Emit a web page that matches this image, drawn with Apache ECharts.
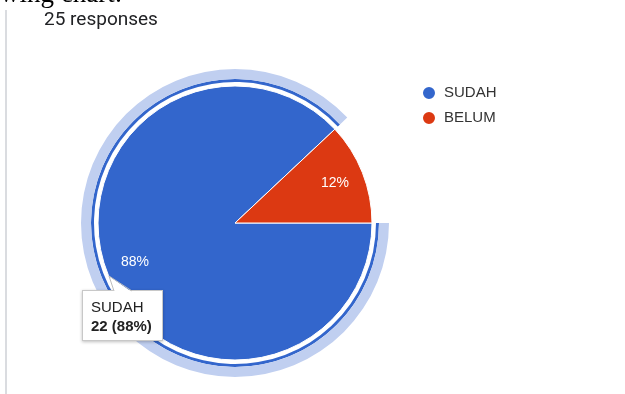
<!DOCTYPE html>
<html>
<head>
<meta charset="utf-8">
<script src="https://cdn.jsdelivr.net/npm/echarts@6/dist/echarts.min.js"></script>
<style>
  html, body { margin: 0; padding: 0; background: #fff; }
  #chart { width: 625px; height: 394px; }
</style>
</head>
<body>
<div id="chart"></div>
<script>
// Survey answers
const categories = ['SUDAH', 'BELUM'];
const responses = [22, 3];
const sliceColors = ['#3366cc', '#dc3912'];
const headerText = '25 responses';
const captionText = 'following chart:';

const pieCenter = [235, 223];
const pieRadius = 137;

const sliceData = categories.map((name, i) => ({
  name,
  value: responses[i],
  itemStyle: { color: sliceColors[i] }
}));

// ring data: only the hovered SUDAH slice gets a visible ring
function ringData(color) {
  return categories.map((name, i) => ({
    name,
    value: responses[i],
    itemStyle: { color: i === 0 ? color : 'transparent', borderWidth: 0 }
  }));
}

const chart = echarts.init(document.getElementById('chart'), null, { renderer: 'canvas' });

const pointerSvg =
  '<svg width="60" height="18" style="position:absolute;left:0;top:-16px;overflow:visible" xmlns="http://www.w3.org/2000/svg">' +
  '<polygon points="26,1 31,17 49,17" fill="#fff"/>' +
  '<polyline points="31,16 26,1 49,16" fill="none" stroke="#bdbdbd" stroke-width="1"/>' +
  '</svg>';

chart.setOption({
  animation: false,
  title: {
    text: headerText,
    left: 44,
    top: 11,
    padding: 0,
    textStyle: { fontFamily: 'Roboto', fontSize: 19, fontWeight: 'normal', color: '#202124' }
  },
  graphic: [
    {
      type: 'text',
      left: -51,
      top: -19,
      style: { text: captionText, font: '27px "Liberation Serif"', fill: '#000' }
    },
    {
      type: 'line',
      shape: { x1: 6, y1: 10, x2: 6, y2: 394 },
      style: { stroke: '#dadce0', lineWidth: 2 }
    }
  ],
  legend: {
    orient: 'vertical',
    left: 421,
    top: 85,
    padding: 0,
    data: categories,
    icon: 'circle',
    itemWidth: 14,
    itemHeight: 14,
    itemGap: 9,
    selectedMode: false,
    textStyle: { fontFamily: 'Arial', fontSize: 15, color: '#333', padding: [0, 0, 0, 3] }
  },
  tooltip: {
    trigger: 'item',
    triggerOn: 'none',
    alwaysShowContent: true,
    transitionDuration: 0,
    position: [82, 290],
    backgroundColor: '#fff',
    borderColor: '#c8c8c8',
    borderWidth: 1,
    padding: [6, 8, 4, 8],
    extraCssText: 'width:81px;height:51px;box-sizing:border-box;border-radius:0;box-shadow:0 1px 3px rgba(0,0,0,0.25);line-height:19px;',
    textStyle: { fontFamily: 'Arial', fontSize: 15, color: '#222' },
    formatter: p => pointerSvg + p.name + '<br><b>' + p.value + ' (' + Math.round(p.percent) + '%)</b>'
  },
  series: [
    {
      name: 'answers',
      type: 'pie',
      center: pieCenter,
      radius: [0, pieRadius],
      startAngle: 0,
      clockwise: true,
      data: sliceData,
      itemStyle: { borderColor: '#fff', borderWidth: 1 },
      label: { show: false },
      labelLine: { show: false },
      emphasis: { disabled: true }
    },
    {
      name: 'percent',
      type: 'pie',
      center: pieCenter,
      radius: [72, pieRadius],
      startAngle: 0,
      silent: true,
      tooltip: { show: false },
      percentPrecision: 0,
      data: categories.map((name, i) => ({ name, value: responses[i] })),
      itemStyle: { color: 'transparent' },
      label: {
        show: true,
        position: 'inside',
        formatter: '{d}%',
        fontFamily: 'Arial',
        fontSize: 14,
        color: '#fff'
      },
      labelLine: { show: false },
      emphasis: { disabled: true }
    },
    {
      name: 'hoverLine',
      type: 'pie',
      center: pieCenter,
      radius: [141, 144],
      startAngle: 0,
      silent: true,
      tooltip: { show: false },
      data: ringData('#3366cc'),
      label: { show: false },
      labelLine: { show: false },
      emphasis: { disabled: true }
    },
    {
      name: 'hoverHalo',
      type: 'pie',
      center: pieCenter,
      radius: [144, 154],
      startAngle: 0,
      silent: true,
      tooltip: { show: false },
      data: ringData('#c0cff0'),
      label: { show: false },
      labelLine: { show: false },
      emphasis: { disabled: true }
    }
  ]
});

chart.dispatchAction({ type: 'showTip', seriesIndex: 0, dataIndex: 0 });
</script>
</body>
</html>
